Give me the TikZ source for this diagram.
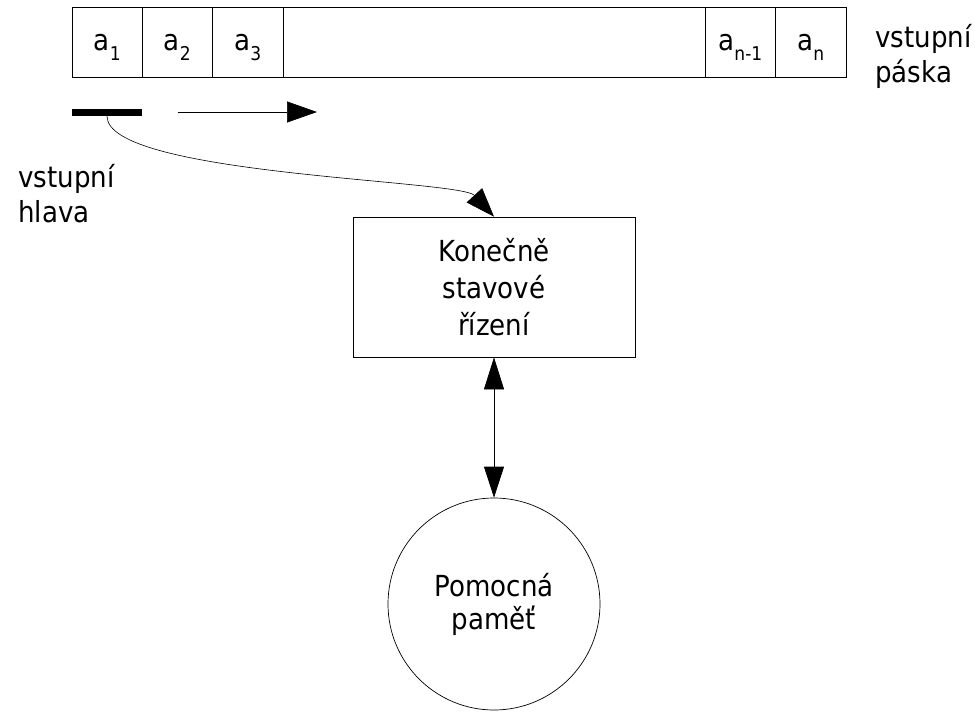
\documentclass[tikz,border=0pt]{standalone}
\usepackage{fontspec}
\setmainfont{DejaVu Sans}[FakeStretch=0.9]
\usetikzlibrary{arrows.meta}
\newcommand\cellsub[1]{\lower10pt\hbox{\fontsize{19}{19}\selectfont #1}}
\begin{document}
\begin{tikzpicture}[x=1pt,y=1pt,
  cell/.style={draw, line width=0.8pt, minimum height=70pt, inner sep=0pt,
    text height=26pt, text depth=10pt, anchor=west,
    font=\fontsize{29}{35}\selectfont},
  lbl/.style={font=\fontsize{29}{35}\selectfont, inner sep=0pt, align=left, anchor=base west},
  thinline/.style={line width=0.7pt},
]
\useasboundingbox (0,0) rectangle (975,-712);
% tape
\node[cell, minimum width=70pt] (c1) at (72,-42) {a\cellsub{1}};
\node[cell, minimum width=70pt] (c2) at (142,-42) {a\cellsub{2}};
\node[cell, minimum width=71pt] (c3) at (212,-42) {a\cellsub{3}};
\node[cell, minimum width=422pt] (blank) at (283,-42) {};
\node[cell, minimum width=70pt] (cn1) at (705,-42) {a\cellsub{n-1}};
\node[cell, minimum width=71pt] (cn) at (775,-42) {a\cellsub{n}};
\node[lbl] (tape) at (875,-82) {vstupní\\páska};
% head
\node[fill=black, minimum width=70pt, minimum height=7pt, inner sep=0pt] (head) at (107,-112.5) {};
\coordinate (mvA) at (178,-112);
\coordinate (mvB) at (317,-112);
\draw[thinline, -{Triangle[length=30pt,width=21pt]}] (mvA) -- (mvB);
\node[lbl] (headlbl) at (18,-222) {vstupní\\hlava};
% finite state control
\node[draw, thinline, minimum width=282pt, minimum height=140pt, inner sep=0pt,
  align=center, font=\fontsize{29}{37}\selectfont] (fsc) at (494,-287)
  {Konečně\\stavové\\řízení};
% memory
\node[draw, thinline, circle, minimum size=212pt, inner sep=0pt,
  align=center, font=\fontsize{29}{33}\selectfont] (mem) at (494,-604)
  {Pomocná\\paměť};
% connectors
\draw[line width=0.6pt, -{Triangle[length=29pt,width=21pt]}]
  (head.south) .. controls +(0,-59) and +(-34,37) .. (fsc.north);
\draw[thinline, {Triangle[length=32pt,width=20pt]}-{Triangle[length=31pt,width=20pt]}]
  (fsc.south) -- (mem.north);
\end{tikzpicture}
\end{document}
